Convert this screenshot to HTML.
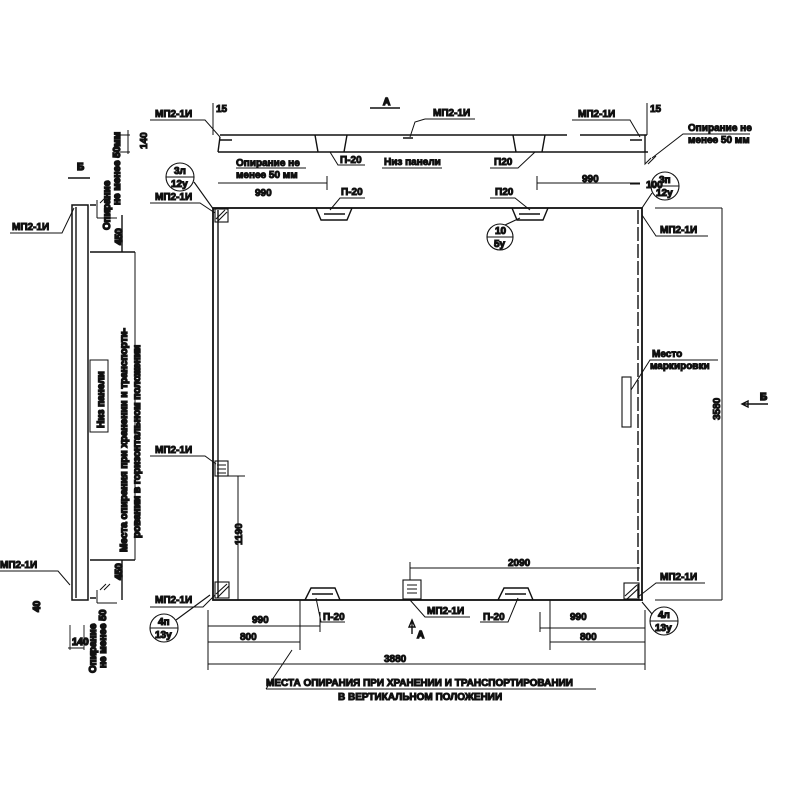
<!DOCTYPE html>
<html><head><meta charset="utf-8"><style>
body{margin:0;background:#fff}
svg{display:block}
text{font-family:"Liberation Sans",sans-serif;font-size:10px;fill:#111;font-weight:bold}
</style></head><body>
<svg width="800" height="800" viewBox="0 0 800 800" stroke="#111" fill="none" stroke-width="1.4">
<rect x="213" y="208" width="429" height="392" stroke-width="1.8"/>
<line x1="218" y1="210" x2="218" y2="598"/>
<line x1="638" y1="210" x2="638" y2="598" stroke-dasharray="14 3"/>
<line x1="220" y1="135" x2="567" y2="135"/>
<line x1="580" y1="135" x2="647" y2="135"/>
<line x1="218" y1="152" x2="648" y2="152"/>
<line x1="220" y1="137" x2="218" y2="152"/>
<line x1="645" y1="135" x2="645" y2="152"/>
<path d="M315 135 L318 152 M347 135 L344 152 M513 135 L516 152 M545 135 L542 152"/>
<path d="M220 140 h12 M403 138 h10 M630 140 h12"/>
<path d="M316 208 L321 220 H347 L352 208"/>
<path d="M512 208 L517 220 H543 L548 208"/>
<path d="M324 214 H345 M519 214 H540"/>
<path d="M305 600 L311 588 H335 L340 600"/>
<path d="M498 600 L504 588 H528 L533 600"/>
<path d="M312 594 H333 M505 594 H526"/>
<g stroke-width="1.1">
<rect x="215" y="209" width="13" height="13"/><path d="M216 219 L225 210 M218 221 L227 212"/>
<rect x="215" y="461" width="13" height="15"/><path d="M217 465 h9 M217 469 h9 M217 473 h9"/>
<rect x="215" y="582" width="14" height="16"/><path d="M216 594 L227 584 M217 598 L229 586"/>
<rect x="403" y="580" width="18" height="19"/><path d="M407 585 h10 M407 589 h10 M407 593 h10"/>
<rect x="624" y="583" width="15" height="16"/><path d="M625 596 L637 585 M627 599 L639 588"/>
<rect x="622" y="377" width="9" height="50"/>
</g>
<rect x="72" y="205" width="16" height="395" stroke-width="1.5"/>
<line x1="76" y1="207" x2="76" y2="598"/>
<path d="M90 205 L96 205 M90 598 L96 598"/>
<path d="M97 200 v18 M100 203 l6 -6 M104 203 l6 -6 M97 218 h20" stroke-width="1"/>
<path d="M97 590 v13 M100 590 l6 -6 M104 590 l6 -6 M97 603 h20" stroke-width="1"/>
<path d="M122 215 V252 M90 252 H135 M90 560 H135 M122 560 V600"/>
<path d="M135 252 V560" stroke-width="1"/>
<text transform="translate(122,245) rotate(-90)" font-size="9">450</text>
<text transform="translate(122,580) rotate(-90)" font-size="9">450</text>
<text transform="translate(104,428) rotate(-90)" font-size="10">Низ панели</text>
<rect x="90" y="360" width="18" height="72" stroke-width="1"/>
<text transform="translate(127,552) rotate(-90)" font-size="9.5">Места опирания при хранении и транспорти-</text>
<text transform="translate(140,538) rotate(-90)" font-size="9.5">ровании в горизонтальном положении</text>
<text transform="translate(110,230) rotate(-90)" font-size="8.5">Опирание</text>
<text transform="translate(120,205) rotate(-90)" font-size="8.5">не менее 50мм</text>
<text transform="translate(96,673) rotate(-90)" font-size="8.5">Опирание</text>
<text transform="translate(106,668) rotate(-90)" font-size="8.5">не менее 50</text>
<text x="72" y="645" font-size="8.5">140</text><path d="M68 648 h16 M70 625 v25 M84 625 v25" stroke-width="0.9"/>
<text transform="translate(40,612) rotate(-90)" font-size="8">40</text>
<text x="77" y="170" font-size="11">Б</text><path d="M68 178 h22"/>
<path d="M742 404 h26 M742 404 l6 -3 v6 z"/><text x="760" y="400" font-size="11">Б</text>
<text x="383" y="105" font-size="11">А</text><path d="M370 108 h30"/>
<path d="M412 620 v14 M412 620 l-3 7 h6 z"/><text x="417" y="638" font-size="11">А</text>
<g stroke-width="1">
<text x="155" y="117">МП2-1И</text><path d="M150 120 H205 L220 137"/>
<text x="216" y="112" font-size="8">15</text><path d="M213 103 v32"/>
<text x="433" y="116">МП2-1И</text><path d="M425 119 H475 M425 119 L415 122 L410 137"/>
<text x="578" y="117">МП2-1И</text><path d="M572 120 H630 L640 137"/>
<text x="650" y="112" font-size="8">15</text><path d="M647 103 v32"/>
<text x="688" y="131">Опирание не</text><text x="688" y="143">менее 50 мм</text>
<path d="M750 134 H683 L652 158"/>
<path d="M645 152 v12 l6 -6 M648 164 l8 -8"/>
<text x="12" y="230">МП2-1И</text><path d="M10 233 H62 L74 208"/>
<text x="155" y="200">МП2-1И</text><path d="M150 203 H200 L215 213"/>
<text x="155" y="453">МП2-1И</text><path d="M150 456 H205 L216 464"/>
<text x="155" y="603">МП2-1И</text><path d="M150 607 H203 L215 595"/>
<text x="0" y="568">МП2-1И</text><path d="M0 571 H58 L70 585"/>
<text x="660" y="233">МП2-1И</text><path d="M708 236 H656 L642 215"/>
<text x="660" y="580">МП2-1И</text><path d="M705 583 H656 L638 597"/>
<text x="427" y="614" font-size="9">МП2-1И</text><path d="M470 617 H425 L410 600"/>
<text x="652" y="357">Место</text><text x="650" y="369">маркировки</text>
<path d="M718 360 H650 L631 390"/>
<text x="236" y="166">Опирание не</text><text x="236" y="178">менее 50 мм</text><path d="M236 168 h70"/>
<text x="384" y="165">Низ панели</text><path d="M382 168 h60"/>
<text x="340" y="163" font-size="9">П-20</text><path d="M365 165 H338 L330 152"/>
<text x="494" y="165" font-size="9">П20</text><path d="M490 168 H518 L535 152"/>
<text x="341" y="195" font-size="9">П-20</text><path d="M365 198 H340 L330 210"/>
<text x="495" y="195" font-size="9">П20</text><path d="M490 198 H515 L530 210"/>
<text x="323" y="620" font-size="9">П-20</text><path d="M345 622 H321 L316 598"/>
<text x="483" y="620" font-size="9">П-20</text><path d="M480 622 H508 L518 598"/>
<text x="266" y="686" font-size="10">МЕСТА ОПИРАНИЯ ПРИ ХРАНЕНИИ И ТРАНСПОРТИРОВАНИИ</text>
<text x="338" y="700" font-size="9">В ВЕРТИКАЛЬНОМ ПОЛОЖЕНИИ</text>
<path d="M266 689 H596 M266 689 L292 650"/>
</g>
<g stroke-width="1.1">
<circle cx="180" cy="177" r="14"/><path d="M166 177 h28 M194 182 L214 210"/><text x="174" y="174" font-size="9">3л</text><text x="171" y="187" font-size="9">12у</text>
<circle cx="665" cy="186" r="14"/><path d="M651 186 h28 M652 193 L642 208"/><text x="659" y="183" font-size="9">3п</text><text x="656" y="196" font-size="9">12у</text>
<circle cx="500" cy="237" r="13"/><path d="M487 237 h26 M505 225 L520 218"/><text x="495" y="234" font-size="9">10</text><text x="494" y="247" font-size="9">5у</text>
<circle cx="164" cy="628" r="14"/><path d="M150 628 h28 M176 620 L210 595"/><text x="158" y="625" font-size="9">4п</text><text x="155" y="638" font-size="9">13у</text>
<circle cx="664" cy="621" r="14"/><path d="M650 621 h28 M652 614 L642 602"/><text x="658" y="618" font-size="9">4л</text><text x="655" y="631" font-size="9">13у</text>
</g>
<g stroke-width="1">
<path d="M218 183 H327 M327 176 v14"/><text x="255" y="196" font-size="11">990</text>
<path d="M537 183 H640 M537 176 v14"/><text x="582" y="182" font-size="11">990</text>
<path d="M128 130 v24 M120 135 h10 M120 152 h10"/><text transform="translate(147,149) rotate(-90)" font-size="9">140</text>
<path d="M630 184 h10"/><text x="646" y="188" font-size="7">100</text>
<path d="M655 208 H722 M722 208 V600 M655 600 H722"/>
<text transform="translate(720,420) rotate(-90)" font-size="11">3580</text>
<path d="M238 476 V600 M228 476 H245"/>
<text transform="translate(242,545) rotate(-90)" font-size="10">1190</text>
<path d="M410 568 H640 M410 562 V580"/><text x="508" y="566" font-size="11">2090</text>
<path d="M208 610 V670 M645 610 V670"/>
<path d="M208 626 H320 M320 612 V632"/><text x="252" y="623" font-size="11">990</text>
<path d="M208 642 H300 M300 600 V650"/><text x="240" y="640" font-size="11">800</text>
<path d="M208 664 H645"/><text x="384" y="662" font-size="11">3880</text>
<path d="M540 628 H645 M540 612 V632"/><text x="570" y="620" font-size="11">990</text>
<path d="M550 642 H645 M550 600 V650"/><text x="580" y="640" font-size="11">800</text>
</g>
</svg>
</body></html>
